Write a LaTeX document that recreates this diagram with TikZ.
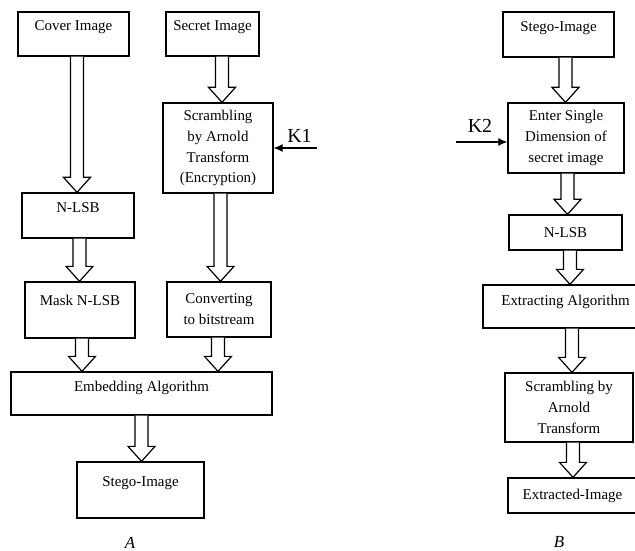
\documentclass[tikz,border=0pt]{standalone}
\usepackage{fontspec}
\setmainfont{Liberation Serif}
\usetikzlibrary{calc}
\usetikzlibrary{arrows.meta}
\tikzset{
  box/.style={draw, line width=1.3bp, inner sep=0pt, align=center, font=\fontsize{15}{21}\selectfont},
  raised/.style={text height=10bp, text depth=#1},
  raised/.default=17bp,
  fatarrow/.style={draw, line width=1.2bp, fill=white, to path={
    let \p1=(\tikztostart), \p2=(\tikztotarget) in
    (\x1-6.5bp,\y1) -- (\x1-6.5bp,\y2+15bp) -- (\x1-13.5bp,\y2+15bp) -- (\x1,\y2)
    -- (\x1+13.5bp,\y2+15bp) -- (\x1+6.5bp,\y2+15bp) -- (\x1+6.5bp,\y1)}},
  keyarrow/.style={line width=1.2bp, -{Latex[length=9bp,width=8bp]}},
  keylabel/.style={font=\fontsize{20}{24}\selectfont, inner sep=0pt},
  partlabel/.style={font=\fontsize{17}{20}\selectfont\itshape, inner sep=0pt}
}

\begin{document}
\begin{tikzpicture}[x=1bp, y=-1bp]
    \useasboundingbox (0,0) rectangle (635,551);
    \clip (0,0) rectangle (635,551);

    \node[box, raised, minimum width=111bp, minimum height=44bp] at (73.5,34) (cover){Cover Image};
    \node[box, raised, minimum width=93bp, minimum height=44bp] at (212.5,34) (secret){Secret Image};
    \node[box, minimum width=110bp, minimum height=90bp] at (218,148) (scramble){Scrambling\\by Arnold\\Transform\\(Encryption)};
    \node[box, raised=16.2bp, minimum width=112bp, minimum height=45bp] at (78,215.5) (nlsbA){N-LSB};
    \node[box, raised=19.2bp, minimum width=110bp, minimum height=56bp] at (80,310) (mask){Mask N-LSB};
    \node[box, minimum width=104bp, minimum height=55bp] at (219,309.5) (convert){Converting\\to bitstream};
    \node[box, raised=14.2bp, minimum width=261bp, minimum height=43bp] at (141.5,393.5) (embed){Embedding Algorithm};
    \node[box, raised, minimum width=127bp, minimum height=56bp] at (140.5,490) (stegoA){Stego-Image};

    \coordinate (k1) at (317,148);
    \draw[keyarrow] (k1) -- (scramble.east);
    \node[keylabel] at (299.5,136) (k1label){K1};

    \draw[fatarrow] ([xshift=3.5bp]cover.south) to (nlsbA.north);
    \draw[fatarrow] ([xshift=9.5bp]secret.south) to (scramble.north);
    \draw[fatarrow] ([xshift=1.5bp]nlsbA.south) to (mask.north);
    \draw[fatarrow] ([xshift=2.5bp]scramble.south) to (convert.north);
    \draw[fatarrow] ([xshift=2bp]mask.south) to (embed.north);
    \draw[fatarrow] ([xshift=-1bp]convert.south) to (embed.north);
    \draw[fatarrow] (embed.south) to (stegoA.north);

    \node[partlabel] at (130,543) (partA){A};

    \node[box, raised=16.2bp, minimum width=111bp, minimum height=45bp] at (558.5,34.5) (stegoB){Stego-Image};
    \node[box, minimum width=116bp, minimum height=70bp] at (566,138) (enter){Enter Single\\Dimension of\\secret image};
    \node[box, minimum width=113bp, minimum height=35bp] at (565.5,232.5) (nlsbB){N-LSB};
    \node[box, raised=12.2bp, minimum width=165bp, minimum height=43bp] at (565.5,306.5) (extract){Extracting Algorithm};
    \node[box, minimum width=128bp, minimum height=69bp] at (569,407.5) (scrambleB){Scrambling by\\Arnold\\Transform};
    \node[box, minimum width=129bp, minimum height=35bp] at (572.5,495.5) (extracted){Extracted-Image};

    \coordinate (k2) at (456,142);
    \draw[keyarrow] (k2) -- (k2 -| enter.west);
    \node[keylabel] at (480,126) (k2label){K2};

    \draw[fatarrow] ([xshift=7bp]stegoB.south) to (enter.north);
    \draw[fatarrow] ([xshift=1.5bp]enter.south) to (nlsbB.north);
    \draw[fatarrow] ([xshift=4.5bp]nlsbB.south) to (extract.north);
    \draw[fatarrow] ([xshift=6.5bp]extract.south) to (scrambleB.north);
    \draw[fatarrow] ([xshift=4bp]scrambleB.south) to (extracted.north);

    \node[partlabel] at (559,542) (partB){B};
\end{tikzpicture}
\end{document}
